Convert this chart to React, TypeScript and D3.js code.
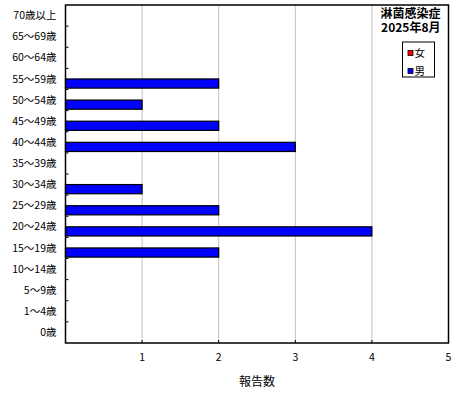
import React, { useEffect, useRef } from 'react';
import * as d3 from 'd3';

const ageGroups = [
  '0歳', '1〜4歳', '5〜9歳', '10〜14歳', '15〜19歳', '20〜24歳', '25〜29歳', '30〜34歳',
  '35〜39歳', '40〜44歳', '45〜49歳', '50〜54歳', '55〜59歳', '60〜64歳', '65〜69歳', '70歳以上',
];
const femaleCounts = [0, 0, 0, 0, 0, 0, 0, 0, 0, 0, 0, 0, 0, 0, 0, 0];
const maleCounts = [0, 0, 0, 0, 2, 4, 2, 1, 0, 3, 2, 1, 2, 0, 0, 0];
const xTicks = [1, 2, 3, 4, 5];
const seriesNames = ['女', '男'];
const seriesColors = ['#ff0000', '#0000ff'];
const titleLines = ['淋菌感染症', '2025年8月'];
const xTitle = '報告数';

export default function App() {
  const svgRef = useRef<SVGSVGElement>(null);
  const width = 460;
  const height = 400;
  const margin = { top: 5, right: 11.5, bottom: 57, left: 65.5 };

  useEffect(() => {
    if (!svgRef.current) return;
    const svg = d3.select(svgRef.current);
    svg.selectAll('*').remove();

    const innerWidth = width - margin.left - margin.right;
    const innerHeight = height - margin.top - margin.bottom;
    const font = '"Noto Sans CJK JP", sans-serif';

    const g = svg.append('g').attr('transform', `translate(${margin.left}, ${margin.top})`);

    const x = d3.scaleLinear().domain([0, 5]).range([0, innerWidth]);
    const y = d3.scaleBand<string>()
      .domain([...ageGroups].reverse())
      .range([0, innerHeight]);
    const sub = d3.scaleBand<string>()
      .domain(seriesNames)
      .range([0, y.bandwidth()])
      .paddingOuter(0.15)
      .paddingInner(0);

    // grid
    g.selectAll('.grid')
      .data(xTicks.slice(0, -1))
      .enter().append('line')
      .attr('x1', d => x(d)).attr('x2', d => x(d))
      .attr('y1', 0).attr('y2', innerHeight)
      .attr('stroke', '#c0c0c0')
      .attr('stroke-width', 1);

    // bars
    const data = [femaleCounts, maleCounts];
    data.forEach((values, si) => {
      g.selectAll(`.bar-${si}`)
        .data(ageGroups.map((a, i) => ({ a, v: values[i] })).filter(d => d.v > 0))
        .enter().append('rect')
        .attr('x', 0)
        .attr('y', d => (y(d.a) as number) + (sub(seriesNames[si]) as number))
        .attr('width', d => x(d.v))
        .attr('height', sub.bandwidth())
        .attr('fill', seriesColors[si])
        .attr('stroke', '#000')
        .attr('stroke-width', 1.2);
    });

    // frame
    g.append('rect')
      .attr('x', 0).attr('y', 0)
      .attr('width', innerWidth).attr('height', innerHeight)
      .attr('fill', 'none')
      .attr('stroke', '#000')
      .attr('stroke-width', 1.5);

    // y ticks (band boundaries, inward)
    g.selectAll('.ytick')
      .data(ageGroups.slice(1))
      .enter().append('line')
      .attr('x1', 0).attr('x2', 3)
      .attr('y1', d => (y(d) as number) + y.bandwidth())
      .attr('y2', d => (y(d) as number) + y.bandwidth())
      .attr('stroke', '#000');

    g.selectAll('.ylabel')
      .data(ageGroups)
      .enter().append('text')
      .attr('x', -9)
      .attr('y', d => (y(d) as number) + y.bandwidth() / 2)
      .attr('dy', '0.35em')
      .attr('text-anchor', 'end')
      .style('font-family', font)
      .style('font-size', '10.5px')
      .text(d => d);

    // x ticks
    g.selectAll('.xtick')
      .data(xTicks)
      .enter().append('line')
      .attr('x1', d => x(d)).attr('x2', d => x(d))
      .attr('y1', innerHeight).attr('y2', innerHeight - 3)
      .attr('stroke', '#000');

    g.selectAll('.xlabel')
      .data(xTicks)
      .enter().append('text')
      .attr('x', d => x(d))
      .attr('y', innerHeight + 14)
      .attr('dy', '0.35em')
      .attr('text-anchor', 'middle')
      .style('font-family', font)
      .style('font-size', '10.5px')
      .text(d => d);

    g.append('text')
      .attr('x', innerWidth / 2)
      .attr('y', innerHeight + 39)
      .attr('dy', '0.35em')
      .attr('text-anchor', 'middle')
      .style('font-family', font)
      .style('font-size', '12px')
      .text(xTitle);

    // title
    titleLines.forEach((t, i) => {
      g.append('text')
        .attr('x', innerWidth - 8)
        .attr('y', 9 + i * 14)
        .attr('dy', '0.35em')
        .attr('text-anchor', 'end')
        .style('font-family', font)
        .style('font-size', '12px')
        .style('font-weight', 'bold')
        .text(t);
    });

    // legend
    const legend = g.append('g').attr('transform', `translate(${innerWidth - 46}, 37)`);
    legend.append('rect')
      .attr('width', 32).attr('height', 35)
      .attr('fill', '#fff')
      .attr('stroke', '#000');
    seriesNames.forEach((name, i) => {
      legend.append('rect')
        .attr('x', 5.5).attr('y', 11.5 + i * 18 - 3)
        .attr('width', 5).attr('height', 5)
        .attr('fill', seriesColors[i])
        .attr('stroke', '#000')
        .attr('stroke-width', 0.8);
      legend.append('text')
        .attr('x', 12)
        .attr('y', 11.5 + i * 18)
        .attr('dy', '0.35em')
        .style('font-family', font)
        .style('font-size', '10.5px')
        .text(name);
    });
  }, []);

  return (
    <svg
      ref={svgRef}
      width={width}
      height={height}
      viewBox={`0 0 ${width} ${height}`}
      style={{ position: 'absolute', left: 0, top: 0, background: '#fff' }}
    />
  );
}
